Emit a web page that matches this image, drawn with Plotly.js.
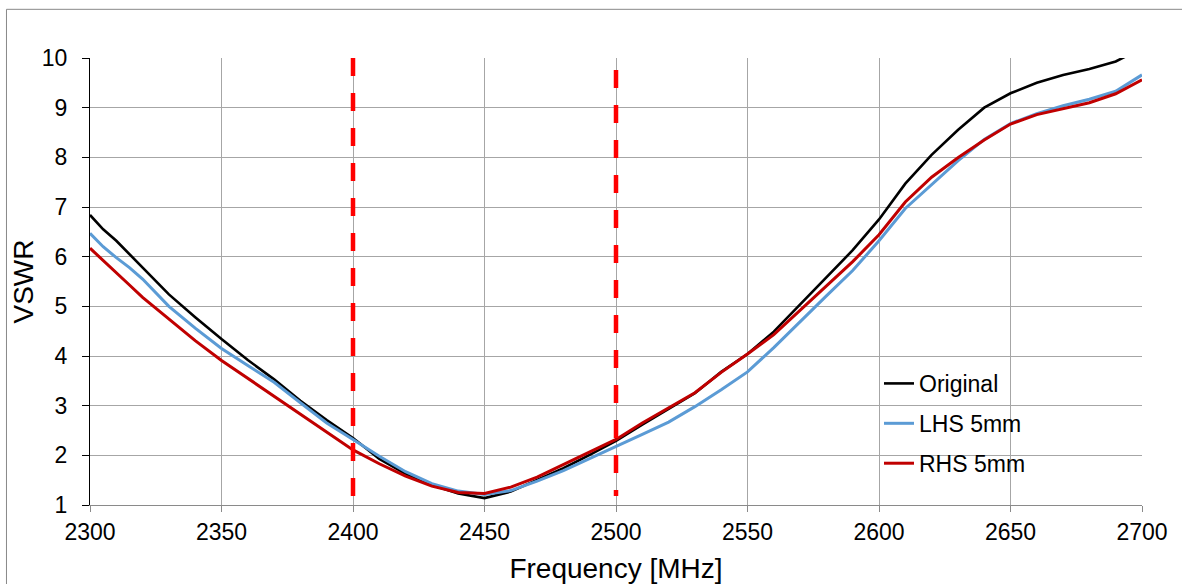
<!DOCTYPE html>
<html>
<head>
<meta charset="utf-8">
<script src="https://cdn.plot.ly/plotly-3.0.1.min.js"></script>
<style>
html,body{margin:0;padding:0;background:#fff;}
#chart{width:1182px;height:584px;}
</style>
</head>
<body>
<div id="chart"></div>
<script>
const freq = [2300,2305,2310,2315,2320,2330,2340,2350,2360,2370,2380,2390,
              2400,2410,2420,2430,2440,2450,2460,2470,2480,2490,
              2500,2510,2520,2530,2540,2550,2560,2570,2580,2590,
              2600,2610,2620,2630,2640,2650,2660,2670,2680,2690,2700];

const original = [6.84,6.55,6.32,6.05,5.78,5.24,4.78,4.34,3.92,3.53,3.10,2.71,
                  2.35,1.93,1.63,1.40,1.23,1.14,1.27,1.50,1.74,2.01,
                  2.29,2.62,2.93,3.25,3.68,4.04,4.49,5.03,5.59,6.13,
                  6.75,7.47,8.05,8.55,9.00,9.29,9.50,9.66,9.78,9.93,10.2];

const lhs5mm = [6.47,6.20,5.98,5.78,5.55,5.00,4.56,4.15,3.81,3.47,3.06,2.65,
                2.32,1.98,1.67,1.43,1.28,1.21,1.29,1.48,1.69,1.93,
                2.17,2.42,2.67,2.98,3.32,3.68,4.17,4.70,5.21,5.72,
                6.32,6.97,7.44,7.93,8.36,8.68,8.88,9.04,9.17,9.33,9.66];

const rhs5mm = [6.17,5.93,5.68,5.43,5.18,4.74,4.31,3.91,3.55,3.20,2.84,2.47,
                2.11,1.83,1.58,1.38,1.25,1.23,1.36,1.56,1.81,2.06,
                2.32,2.65,2.95,3.26,3.67,4.04,4.43,4.92,5.42,5.90,
                6.44,7.10,7.60,7.99,8.35,8.67,8.86,8.98,9.10,9.28,9.56];

const seriesNames = ["Original", "LHS 5mm", "RHS 5mm"];
const bandEdges = [2400, 2500];
const xTicks = [2300,2350,2400,2450,2500,2550,2600,2650,2700];
const yTicks = [1,2,3,4,5,6,7,8,9,10];

const font = "Liberation Sans, Arial, sans-serif";

const traces = [
  {x: freq, y: original, name: seriesNames[0], type: "scatter", mode: "lines",
   line: {color: "#000000", width: 2.6}, legendgroup: "a"},
  {x: freq, y: lhs5mm, name: seriesNames[1], type: "scatter", mode: "lines",
   line: {color: "#5b9bd5", width: 3}, legendgroup: "b"},
  {x: freq, y: rhs5mm, name: seriesNames[2], type: "scatter", mode: "lines",
   line: {color: "#c00000", width: 3}, legendgroup: "c"}
];

const shapes = [
  {type: "line", xref: "x", yref: "y", x0: bandEdges[0], x1: bandEdges[0], y0: 10, y1: 1,
   line: {color: "#ff0000", width: 4.5, dash: "18px,17px"}, layer: "above"},
  {type: "line", xref: "x", yref: "y", x0: bandEdges[1], x1: bandEdges[1], y0: 9.76, y1: 1.18,
   line: {color: "#ff0000", width: 4.5, dash: "18px,17px"}, layer: "above"},
  {type: "rect", xref: "paper", yref: "paper", x0: -0.0794, x1: 1.3, y0: 1.1089, y1: -0.4,
   line: {color: "#888888", width: 1}, fillcolor: "rgba(0,0,0,0)", layer: "below"}
];

const layout = {
  width: 1182, height: 584,
  margin: {l: 89.5, r: 40.3, t: 57.7, b: 79, pad: 0},
  paper_bgcolor: "#ffffff", plot_bgcolor: "#ffffff",
  font: {family: font, color: "#000000", size: 23},
  showlegend: true,
  legend: {x: 0.75, y: 0.32, xanchor: "left", yanchor: "top",
           bgcolor: "rgba(255,255,255,0)", borderwidth: 0,
           font: {family: font, size: 23, color: "#000000"},
           tracegroupgap: 7, traceorder: "grouped"},
  xaxis: {range: [2300, 2700], tickvals: xTicks, ticktext: xTicks.map(String),
          showgrid: true, gridcolor: "#a6a6a6", gridwidth: 1,
          showline: true, linecolor: "#8a8a8a", linewidth: 1,
          ticks: "outside", ticklen: 6, tickcolor: "#8a8a8a",
          zeroline: false, tickfont: {family: font, size: 23},
          title: {text: "Frequency [MHz]", font: {family: font, size: 28}, standoff: 20}},
  yaxis: {range: [1, 10], tickvals: yTicks, ticktext: yTicks.map(String),
          showgrid: true, gridcolor: "#a6a6a6", gridwidth: 1,
          showline: true, linecolor: "#000000", linewidth: 1,
          ticks: "outside", ticklen: 7, tickcolor: "#000000",
          ticklabelstandoff: 10,
          zeroline: false, tickfont: {family: font, size: 23},
          title: {text: "VSWR", font: {family: font, size: 28}, standoff: 0}},
  shapes: shapes
};

Plotly.newPlot("chart", traces, layout, {displayModeBar: false, staticPlot: true});
</script>
</body>
</html>
